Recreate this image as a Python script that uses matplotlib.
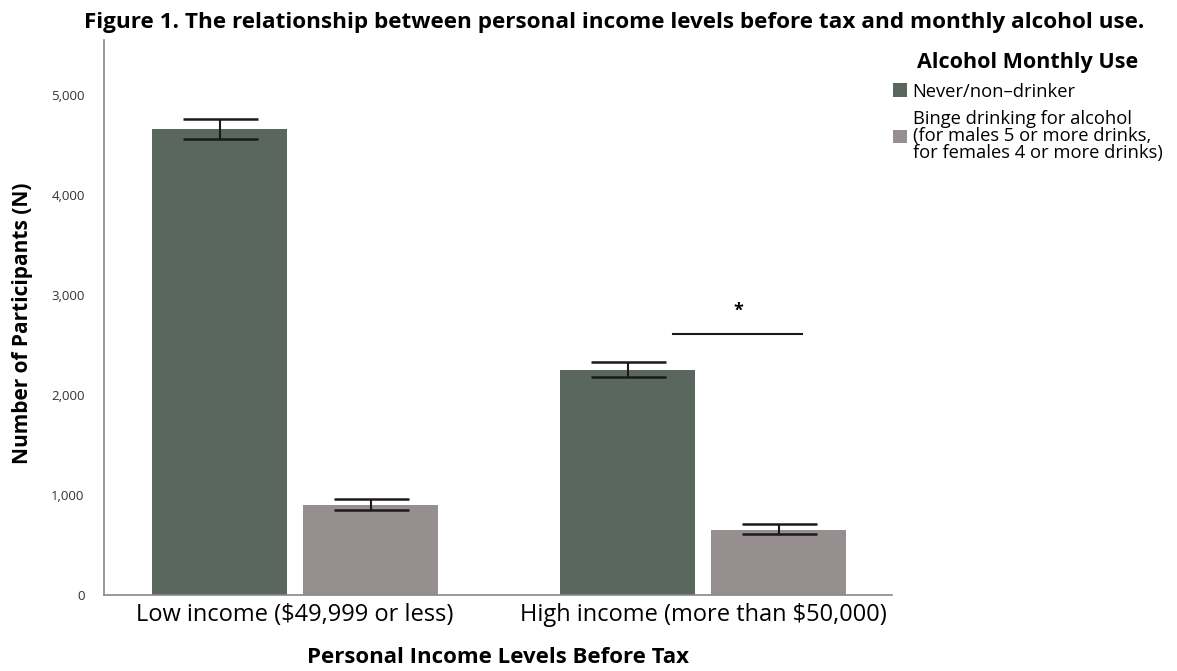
import numpy as np
import matplotlib.pyplot as plt

# income groups and counts per drinking category
categories = ["Low income ($49,999 or less)", "High income (more than $50,000)"]
never_drinker = [4660, 2250]
binge_drinker = [900, 650]
never_err_lo = [100, 70]
never_err_hi = [100, 80]
binge_err_lo = [50, 40]
binge_err_hi = [60, 60]

series_labels = ["Never/non\u2013drinker",
                 "Binge drinking for alcohol\n(for males 5 or more drinks,\nfor females 4 or more drinks)"]
yticks = [0, 1000, 2000, 3000, 4000, 5000]

col_never = "#5a675e"
col_binge = "#978f8f"

plt.rcParams['font.family'] = ['Open Sans', 'DejaVu Sans']

fig = plt.figure(figsize=(11.77, 6.71), dpi=100)
ax = fig.add_axes([0.0884, 0.1133, 0.6696, 0.8267])

x = np.arange(len(categories))
w = 0.331
off = 0.185

ax.bar(x - off, never_drinker, w, color=col_never, label=series_labels[0], zorder=2)
ax.bar(x + off, binge_drinker, w, color=col_binge, label=series_labels[1], zorder=2)
ax.errorbar(x - off, never_drinker, yerr=[never_err_lo, never_err_hi], fmt='none',
            ecolor='#1a1a1a', elinewidth=1.5, capsize=27, capthick=1.8, zorder=3)
ax.errorbar(x + off, binge_drinker, yerr=[binge_err_lo, binge_err_hi], fmt='none',
            ecolor='#1a1a1a', elinewidth=1.5, capsize=27, capthick=1.8, zorder=3)

# significance marker between the high income bars
ax.plot([0.926, 1.243], [2610, 2610], color='#1a1a1a', lw=1.5)
ax.text(1.086, 2840, "*", ha='center', va='center', fontsize=13, fontweight='bold')

ax.set_xlim(-0.468, 1.463)
ax.set_ylim(0, 5550)
ax.set_yticks(yticks)
ax.set_yticklabels([f"{v:,}" for v in yticks], fontsize=9.5, color='#333333')
ax.set_xticks(x)
ax.set_xticklabels(categories, fontsize=17)
ax.tick_params(axis='both', length=0, pad=6)
ax.tick_params(axis='y', pad=14)

for s in ['top', 'right']:
    ax.spines[s].set_visible(False)
for s in ['left', 'bottom']:
    ax.spines[s].set_color('#888888')
    ax.spines[s].set_linewidth(1.2)

ax.set_ylabel("Number of Participants (N)", fontsize=15, fontweight='bold')
ax.yaxis.set_label_coords(-0.09, 0.49)
ax.set_xlabel("Personal Income Levels Before Tax", fontsize=16, fontweight='bold', labelpad=14)

fig.text(0.5217, 0.967, "Figure 1. The relationship between personal income levels before tax and monthly alcohol use.",
         ha='center', va='center', fontsize=16.2, fontweight='bold')

leg = ax.legend(loc='upper left', bbox_to_anchor=(0.759, 0.922), bbox_transform=fig.transFigure,
                frameon=False, fontsize=13.2, title="Alcohol Monthly Use",
                title_fontproperties={'size': 15.5, 'weight': 'bold'},
                handlelength=0.75, handleheight=0.75, handletextpad=0.3, labelspacing=0.5,
                borderaxespad=0, borderpad=0)
leg._legend_box.align = 'center'
for t in leg.get_texts():
    t.set_linespacing(0.95)

fig.savefig("out.png", dpi=100)
